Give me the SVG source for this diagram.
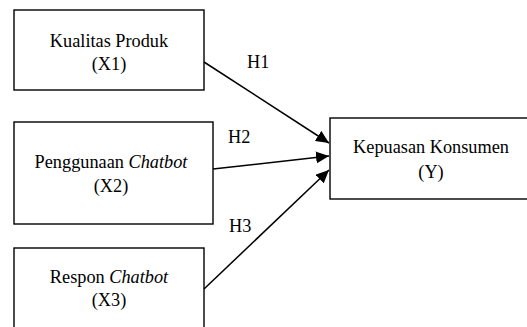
<svg xmlns="http://www.w3.org/2000/svg" width="527" height="327" viewBox="0 0 527 327">
<style>
.box{fill:#fff;stroke:#000;stroke-width:1.4}
.t{font-family:"Liberation Serif","Times New Roman",serif;font-size:18.3px;fill:#000;text-anchor:middle}
.lbl{font-family:"Liberation Serif","Times New Roman",serif;font-size:18.3px;fill:#000}
.conn{stroke:#000;stroke-width:1.5;fill:none;marker-end:url(#ah)}
</style>
<defs>
<marker id="ah" markerUnits="userSpaceOnUse" markerWidth="14" markerHeight="12" refX="13" refY="6" orient="auto">
<path d="M0,0 L13,6 L0,12 Z" fill="#000"/>
</marker>
</defs>
<rect width="527" height="327" fill="#fff"/>
<g id="n1">
<rect class="box" x="14" y="10" width="190" height="80"/>
<text class="t" x="109" y="47">Kualitas Produk</text>
<text class="t" x="109" y="70">(X1)</text>
</g>
<g id="n2">
<rect class="box" x="14" y="122" width="199" height="102"/>
<text class="t" x="111" y="168">Penggunaan <tspan font-style="italic">Chatbot</tspan></text>
<text class="t" x="111" y="192">(X2)</text>
</g>
<g id="n3">
<rect class="box" x="14" y="248" width="190" height="84"/>
<text class="t" x="109" y="283">Respon <tspan font-style="italic">Chatbot</tspan></text>
<text class="t" x="109" y="306">(X3)</text>
</g>
<g id="ny">
<rect class="box" x="330" y="118" width="200" height="81"/>
<text class="t" x="431" y="153">Kepuasan Konsumen</text>
<text class="t" x="431" y="178">(Y)</text>
</g>
<g id="connectors">
<line class="conn" x1="204" y1="62" x2="329" y2="143"/>
<line class="conn" x1="213" y1="169" x2="329" y2="156"/>
<line class="conn" x1="204" y1="289" x2="329" y2="170"/>
<text class="lbl" x="247" y="68">H1</text>
<text class="lbl" x="228" y="143">H2</text>
<text class="lbl" x="229" y="232">H3</text>
</g>
</svg>
